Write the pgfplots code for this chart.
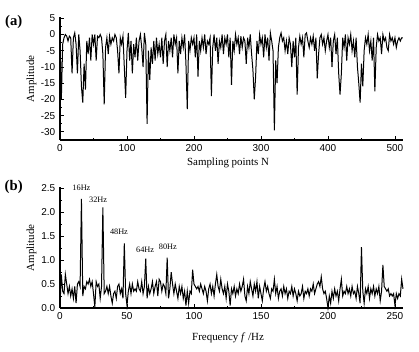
\documentclass[border=0pt]{standalone}
\usepackage{pgfplots}
\pgfplotsset{compat=1.18}
\usepackage{fontspec}
\setmainfont{Liberation Serif}
\newfontfamily\ticksans{Liberation Sans}
\begin{document}
\begin{tikzpicture}
\useasboundingbox (0pt,0pt) rectangle (314.25pt,-264pt);
\pgfplotsset{
  myax/.style={
    scale only axis,
    axis lines=left,
    axis line style={-,line width=0.8pt},
    tick align=inside,
    major tick length=3pt,
    minor tick length=1.6pt,
    every tick/.style={black,line width=0.6pt},
    tick label style={font=\ticksans\fontsize{7.5}{8}\selectfont},
    /pgf/number format/assume math mode=true,
    label style={font=\fontsize{8.2}{9}\selectfont},
    ylabel style={at={(axis description cs:-0.083,0.5)},anchor=center},
    clip=false,
  }
}
\begin{axis}[myax,
  at={(45pt,-105pt)}, anchor=south west,
  width=257.25pt, height=92.0pt,
  xmin=0, xmax=512, ymin=-32.5, ymax=5.3,
  xtick={0,100,...,500}, minor x tick num=1,
  ytick={-30,-25,...,5}, minor y tick num=1,
  xlabel={Sampling points N},
  xlabel style={at={(axis description cs:0.49,-0.19)},anchor=center},
  ylabel={Amplitude},
  yticklabel style={/pgf/number format/fixed},
]
\addplot[black, line width=0.75pt] coordinates {
(0,-1)(2,-20)(4,-3)(6,-1)(8,0)(10,-0.5)(12,-2)(14,-0.5)(16,-1)(18,-12)
(20,-1)(22,0.5)(24,-3)(26,-12)(28,0)(30,-5)(32,-16)(34,-21)(36,-9)(38,-17)
(40,-2)(42,-6)(44,-1)(46,-8)(48,0)(50,-3)(52,0)(54,-8)(56,-0.5)(58,-1)
(60,0)(62,-1)(64,-6)(66,-21.5)(68,-4)(70,-1)(72,-6)(74,-0.5)(76,-3)(78,-1)
(80,-2)(82,0)(84,-1)(86,-5)(88,-12)(90,-1)(92,-3)(94,-0.5)(96,-10)(98,-19.5)
(100,-5)(102,0.5)(104,-8)(106,-2)(108,-12)(110,-3)(112,-7)(114,-1)(116,-8)(118,-2)
(120,0)(122,-4)(124,-10)(126,0.5)(128,-3)(130,-27.5)(132,-5)(134,-14)(136,-4)(138,-9)
(140,-2)(142,-8)(144,-1)(146,-6)(148,-3)(150,-7)(152,-1)(154,-9)(156,-2)(158,0)
(160,-10)(162,-2)(164,-5)(166,-1)(168,-7)(170,0)(172,-3)(174,-1)(176,-12)(178,-2)
(180,-6)(182,-1)(184,-4)(186,0)(188,-9)(190,-23)(192,-2)(194,-5)(196,-1)(198,-3)
(200,-1)(202,-7)(204,0)(206,-13)(208,-2)(210,-5)(212,-1)(214,-4)(216,0)(218,-6)
(220,-2)(222,-3)(224,-1)(226,-19)(228,-4)(230,0)(232,-5)(234,-1)(236,-9)(238,-2)
(240,-4)(242,0)(244,-6)(246,-1)(248,-3)(250,0)(252,-7)(254,-1)(256,-15.5)(258,-2)
(260,-5)(262,0)(264,-3)(266,-1)(268,-6)(270,-0.5)(272,-4)(274,-1)(276,-2)(278,-9)
(280,-1)(282,-4)(284,0)(286,-6)(288,-11)(290,-20)(292,-13)(294,-2)(296,-6)(298,0)
(300,-3)(302,-1)(304,-7)(306,0)(308,-4)(310,-1)(312,-8)(314,0.5)(316,-2)(318,-5)
(320,-29.5)(322,-8)(324,-15)(326,-4)(328,-1)(330,0.5)(332,-2)(334,-1)(336,-5)(338,-2)
(340,-6)(342,-1)(344,-3)(346,-10)(348,-2)(350,-7)(352,-1)(354,-18.5)(356,-4)(358,-0.5)
(360,-3)(362,-1)(364,-7)(366,0)(368,0.5)(370,-2)(372,-4)(374,-1)(376,-3)(378,-0.5)
(380,-5)(382,-1)(384,-13.5)(386,-6)(388,-1)(390,0)(392,-3)(394,-1)(396,-5)(398,-2)
(400,0)(402,-4)(404,-1)(406,-10)(408,-2)(410,0)(412,-6)(414,-1)(416,-12)(418,-18.5)
(420,-12)(422,-1)(424,-4)(426,0)(428,-8)(430,-1)(432,-3)(434,0)(436,-5)(438,-2)
(440,-7)(442,-1)(444,-10)(446,-15)(448,-21)(450,-9)(452,-16)(454,-5)(456,-1)(458,-3)
(460,0)(462,-5)(464,-2)(466,-8)(468,-1)(470,-17.5)(472,-4)(474,0)(476,-2)(478,-1)
(480,-6)(482,0)(484,-2)(486,-1)(488,-4)(490,-5)(492,0)(494,-2)(496,-1)(498,-3)
(500,-1)(502,-4)(504,-2)(506,-1)(508,-2)(510,-1)(512,-1)
};
\node[font=\bfseries\fontsize{11}{12}\selectfont,anchor=center] at (axis description cs:-0.135,0.96) {(a)};
\end{axis}

\begin{axis}[myax,
  at={(45pt,-231pt)}, anchor=south west,
  width=257.25pt, height=90.5pt,
  xmin=0, xmax=256, ymin=0, ymax=2.52,
  xtick={0,50,...,250}, minor x tick num=1,
  ytick={0,0.5,...,2.5}, minor y tick num=1,
  yticklabel style={/pgf/number format/.cd,fixed,fixed zerofill,precision=1},
  xlabel={Frequency \textit{f} /Hz},
  xlabel style={at={(axis description cs:0.49,-0.25)},anchor=center},
  ylabel={Amplitude},
]
\addplot[black, line width=0.75pt] coordinates {
(0,0.05)(1,0.7)(2,0.35)(3,0.3)(4,0.7)(5,0.5)(6,0.3)(7,0.45)(8,0.25)(9,0.4)
(10,0.2)(11,0.45)(12,0.1)(13,0.5)(14,0.55)(15,0.45)(16,2.28)(17,0.25)(18,0.45)(19,0.4)
(20,0.55)(21,0.5)(22,0.6)(23,0.45)(24,0.55)(25,0.3)(26,0.02)(27,0.55)(28,0.45)(29,0.5)
(30,0.2)(31,0.45)(32,2.1)(33,0.3)(34,0.35)(35,0.45)(36,0.3)(37,0.45)(38,0.25)(39,0.1)
(40,0.3)(41,0.35)(42,0.2)(43,0.45)(44,0.5)(45,0.3)(46,0.4)(47,0.2)(48,1.35)(49,0.3)
(50,0.05)(51,0.35)(52,0.5)(53,0.3)(54,0.5)(55,0.35)(56,0.4)(57,0.35)(58,0.55)(59,0.4)
(60,0.35)(61,0.55)(62,0.3)(63,0.45)(64,1.03)(65,0.2)(66,0.45)(67,0.3)(68,0.4)(69,0.55)
(70,0.3)(71,0.45)(72,0.55)(73,0.25)(74,0.6)(75,0.55)(76,0.35)(77,0.5)(78,0.45)(79,0.3)
(80,1.05)(81,0.2)(82,0.4)(83,0.75)(84,0.5)(85,0.3)(86,0.5)(87,0.35)(88,0.2)(89,0.45)
(90,0.3)(91,0.45)(92,0.2)(93,0.35)(94,0.05)(95,0.35)(96,0.1)(97,0.35)(98,0.3)(99,0.8)
(100,0.5)(101,0.45)(102,0.4)(103,0.45)(104,0.35)(105,0.5)(106,0.4)(107,0.3)(108,0.45)(109,0.35)
(110,0.15)(111,0.4)(112,0.5)(113,0.3)(114,0.45)(115,0.25)(116,0.5)(117,0.7)(118,0.45)(119,0.35)
(120,0.6)(121,0.4)(122,0.3)(123,0.45)(124,0.2)(125,0.5)(126,0.35)(127,0.05)(128,0.4)(129,0.3)
(130,0.45)(131,0.25)(132,0.4)(133,0.3)(134,0.5)(135,0.35)(136,0.45)(137,0.6)(138,0.25)(139,0.15)
(140,0.45)(141,0.3)(142,0.55)(143,0.4)(144,0.25)(145,0.5)(146,0.35)(147,0.55)(148,0.2)(149,0.45)
(150,0.3)(151,0.15)(152,0.4)(153,0.55)(154,0.35)(155,0.45)(156,0.3)(157,0.2)(158,0.4)(159,0.35)
(160,0.6)(161,0.3)(162,0.45)(163,0.2)(164,0.35)(165,0.4)(166,0.25)(167,0.45)(168,0.3)(169,0.4)
(170,0.2)(171,0.35)(172,0.3)(173,0.45)(174,0.25)(175,0.4)(176,0.3)(177,0.15)(178,0.35)(179,0.25)
(180,0.3)(181,0.45)(182,0.2)(183,0.35)(184,0.3)(185,0.4)(186,0.25)(187,0.4)(188,0.35)(189,0.5)
(190,0.3)(191,0.4)(192,0.5)(193,0.55)(194,0.45)(195,0.65)(196,0.4)(197,0.3)(198,0.35)(199,0.2)
(200,0.0)(201,0.25)(202,0.1)(203,0.35)(204,0.2)(205,0.4)(206,0.25)(207,0.35)(208,0.15)(209,0.4)
(210,0.6)(211,0.25)(212,0.35)(213,0.3)(214,0.45)(215,0.3)(216,0.4)(217,0.25)(218,0.45)(219,0.3)
(220,0.35)(221,0.2)(222,0.45)(223,0.3)(224,0.1)(225,1.27)(226,0.35)(227,0.1)(228,0.4)(229,0.3)
(230,0.45)(231,0.2)(232,0.4)(233,0.3)(234,0.45)(235,0.25)(236,0.4)(237,0.3)(238,0.45)(239,0.15)
(240,0.35)(241,0.9)(242,0.45)(243,0.4)(244,0.35)(245,0.4)(246,0.25)(247,0.3)(248,0.25)(249,0.3)
(250,0.05)(251,0.3)(252,0.2)(253,0.3)(254,0.25)(255,0.6)(256,0.4)
};
\node[font=\fontsize{6.2}{7}\selectfont] at (axis cs:16,2.5) {16Hz};
\node[font=\fontsize{6.2}{7}\selectfont] at (axis cs:28.5,2.26) {32Hz};
\node[font=\fontsize{6.2}{7}\selectfont] at (axis cs:44,1.6) {48Hz};
\node[font=\fontsize{6.2}{7}\selectfont] at (axis cs:63.5,1.22) {64Hz};
\node[font=\fontsize{6.2}{7}\selectfont] at (axis cs:80.5,1.27) {80Hz};
\node[font=\bfseries\fontsize{11}{12}\selectfont,anchor=center] at (axis description cs:-0.135,1.0) {(b)};
\end{axis}
\end{tikzpicture}
\end{document}
